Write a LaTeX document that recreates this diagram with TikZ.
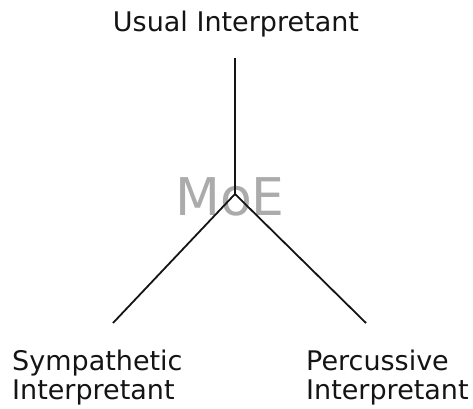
\documentclass[tikz,border=0pt]{standalone}
\usepackage{fontspec}
\setmainfont{DejaVu Sans}
\usepackage{tikz}
\usetikzlibrary{positioning}
\definecolor{ink}{HTML}{141414}
\definecolor{wmark}{HTML}{ABABAB}
\tikzset{
  lbl/.style={font=\fontsize{27}{29}\selectfont, text=ink, inner sep=0pt, align=left},
  arm/.style={line width=1.8pt, color=ink},
  wmtext/.style={font=\fontsize{52}{52}\selectfont, text=wmark, inner sep=0pt},
}
\begin{document}
\begin{tikzpicture}[x=1pt,y=-1pt]
  \useasboundingbox (0,0) rectangle (473,408);
  % watermark behind the hub
  \node[wmtext, anchor=base] (moe) at (230,215) {MoE};
  % the three interpretants
  \node[lbl, anchor=base] (usual) at (236,31) {Usual Interpretant};
  \node[lbl, anchor=north west] (symp) at (12,350) {Sympathetic\\Interpretant};
  \node[lbl, anchor=north west] (perc) at (306,350) {Percussive\\Interpretant};
  \coordinate (hub) at (235,194);
  \coordinate (utip) at (235,58);
  \coordinate (stip) at (113,323);
  \coordinate (ptip) at (366,323);
  \draw[arm] (hub) -- (utip);
  \draw[arm] (hub) -- (stip);
  \draw[arm] (hub) -- (ptip);
\end{tikzpicture}
\end{document}
